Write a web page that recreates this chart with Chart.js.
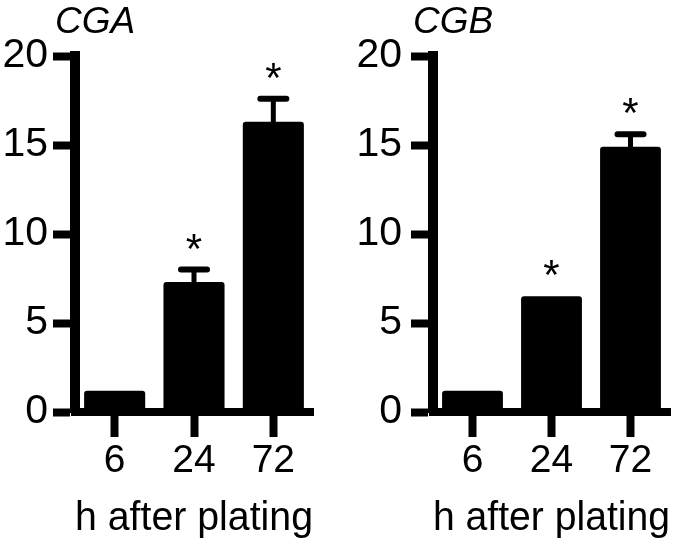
<!DOCTYPE html>
<html>
<head>
<meta charset="utf-8">
<script src="https://cdn.jsdelivr.net/npm/chart.js@4"></script>
<style>
  html, body { margin: 0; padding: 0; background: #fff; }
  #wrap { position: relative; width: 673px; height: 551px; }
  .panel { position: absolute; top: 0; height: 551px; }
  #cga { left: 0; width: 336px; }
  #cgb { left: 336px; width: 337px; }
</style>
</head>
<body>
<div id="wrap">
  <div class="panel" id="cga"><canvas id="cgaChart"></canvas></div>
  <div class="panel" id="cgb"><canvas id="cgbChart"></canvas></div>
</div>
<script>
// data (fold change, mean + SEM)
const hours = ['6', '24', '72'];
const yTicks = [0, 5, 10, 15, 20];
const cgaMean = [1.2, 7.3, 16.3];
const cgaSem = [0, 0.7, 1.3];
const cgbMean = [1.2, 6.5, 14.9];
const cgbSem = [0, 0, 0.7];
const marks = ['', '*', '*'];

const family = '"Liberation Sans", Arial, sans-serif';

// upper error bar + significance star on each bar
const errorBars = {
  id: 'errorBars',
  afterDatasetsDraw(chart) {
    const ctx = chart.ctx;
    const y = chart.scales.y;
    const ds = chart.data.datasets[0];
    const meta = chart.getDatasetMeta(0);
    ctx.save();
    ctx.strokeStyle = '#000';
    ctx.fillStyle = '#000';
    ctx.lineCap = 'round';
    meta.data.forEach((bar, i) => {
      const top = y.getPixelForValue(ds.data[i] + ds.sem[i]);
      if (ds.sem[i] > 0) {
        ctx.lineWidth = 5;
        ctx.beginPath();
        ctx.moveTo(bar.x, bar.y);
        ctx.lineTo(bar.x, top);
        ctx.stroke();
        ctx.lineWidth = 6;
        ctx.beginPath();
        ctx.moveTo(bar.x - 13, top);
        ctx.lineTo(bar.x + 13, top);
        ctx.stroke();
      }
      if (ds.marks[i]) {
        ctx.font = '42px ' + family;
        ctx.textAlign = 'center';
        ctx.textBaseline = 'alphabetic';
        ctx.fillText(ds.marks[i], bar.x, top - 7);
      }
    });
    ctx.restore();
  }
};

// italic gene name, sitting a little left of the y axis
const panelTitle = {
  id: 'panelTitle',
  afterDraw(chart, args, opts) {
    const ctx = chart.ctx;
    ctx.save();
    ctx.fillStyle = '#000';
    ctx.font = 'italic 37px ' + family;
    ctx.textAlign = 'left';
    ctx.textBaseline = 'alphabetic';
    ctx.fillText(opts.text, chart.chartArea.left - 20, 33);
    ctx.restore();
  }
};

const makePanel = (id, title, means, sem, opts) => {
  new Chart(document.getElementById(id), {
    type: 'bar',
    data: {
      labels: hours,
      datasets: [{
        data: means,
        sem: sem,
        marks: marks,
        backgroundColor: '#000',
        borderRadius: 3,
        barPercentage: 0.77,
        categoryPercentage: 1
      }]
    },
    options: {
      responsive: true,
      maintainAspectRatio: false,
      animation: false,
      layout: {
        padding: { left: 0, right: opts.padRight, top: 56, bottom: 0 }
      },
      plugins: {
        legend: { display: false },
        tooltip: { enabled: false },
        panelTitle: { text: title }
      },
      scales: {
        x: {
          grid: {
            drawOnChartArea: false,
            offset: false,
            tickLength: 25,
            tickWidth: 8,
            tickColor: '#000'
          },
          border: { color: '#000', width: 8 },
          ticks: { color: '#000', padding: 1, font: { family, size: 39 } },
          title: {
            display: true,
            text: 'h after plating',
            align: opts.titleAlign,
            color: '#000',
            font: { family, size: 41, lineHeight: 1 },
            padding: { top: 0, bottom: 12 }
          },
          afterFit: (s) => { s.height = 139; }
        },
        y: {
          min: 0,
          max: 20,
          grid: {
            drawOnChartArea: false,
            tickLength: 22,
            tickWidth: 8,
            tickColor: '#000'
          },
          border: { color: '#000', width: 10 },
          ticks: { color: '#000', padding: opts.labelPad, font: { family, size: 41 } },
          afterBuildTicks: (s) => { s.ticks = yTicks.map(v => ({ value: v })); },
          afterFit: (s) => { s.width = opts.axisWidth; }
        }
      }
    },
    plugins: [errorBars, panelTitle]
  });
};

makePanel('cgaChart', 'CGA', cgaMean, cgaSem,
  { padRight: 23, axisWidth: 75, labelPad: 5, titleAlign: 'center' });
makePanel('cgbChart', 'CGB', cgbMean, cgbSem,
  { padRight: 3, axisWidth: 97, labelPad: 9, titleAlign: 'end' });
</script>
</body>
</html>
